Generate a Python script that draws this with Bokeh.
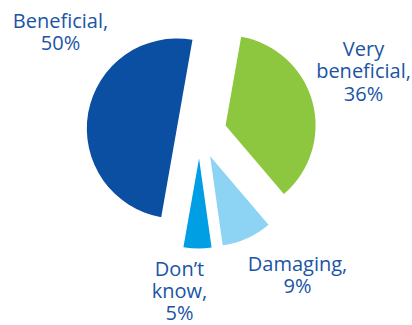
import math
from bokeh.plotting import figure
from bokeh.models import Range1d
from bokeh.core.properties import value
from bokeh.embed import file_html
from bokeh.resources import INLINE

# data
categories = ["Very beneficial", "Damaging", "Don\u2019t know", "Beneficial"]
percents = [36, 9, 5, 50]
colors = ["#8DC63F", "#8DD3F3", "#009FE3", "#0B4FA2"]
label_lines = [["Very", "beneficial,"], ["Damaging,"], ["Don\u2019t", "know,"], ["Beneficial,"]]

W, H = 412, 325
p = figure(width=W, height=H, output_backend="svg", toolbar_location=None,
           x_range=Range1d(0, W), y_range=Range1d(0, H), min_border=0,
           x_axis_location=None, y_axis_location=None)
p.grid.visible = False
p.outline_line_color = None
p.background_fill_color = "white"
p.border_fill_color = "white"

cx, cy = 199, H - 132
R = 90
start = 10.0  # degrees clockwise from 12 o'clock
explode = [27, 26, 26, 23]

total = sum(percents)
a = start
for cat, pc, col, d in zip(categories, percents, colors, explode):
    span = pc / total * 360.0
    t1, t2 = a, a + span
    tm = math.radians((t1 + t2) / 2)
    x = cx + d * math.sin(tm)
    y = cy + d * math.cos(tm)
    p.wedge(x=[x], y=[y], radius=R, start_angle=90 - t2, end_angle=90 - t1,
            start_angle_units="deg", end_angle_units="deg",
            fill_color=col, line_color=None)
    a = t2

# labels (x center, vertical centre of first line from top, line step)
label_pos = [(363, 47.5, 22.6), (297, 263, 22.0), (179, 268, 21.8), (60, 19.7, 22.4)]
for lines, pc, (lx, ly, lh) in zip(label_lines, percents, label_pos):
    all_lines = lines + [f"{pc}%"]
    xs = [lx] * len(all_lines)
    ys = [H - (ly + i * lh) for i in range(len(all_lines))]
    p.text(x=xs, y=ys, text=all_lines, text_align="center", text_baseline="middle",
           text_font=value("Open Sans"), text_font_size="20px", text_color="#1A55A5")

open("out.html", "w").write(file_html(p, INLINE))
